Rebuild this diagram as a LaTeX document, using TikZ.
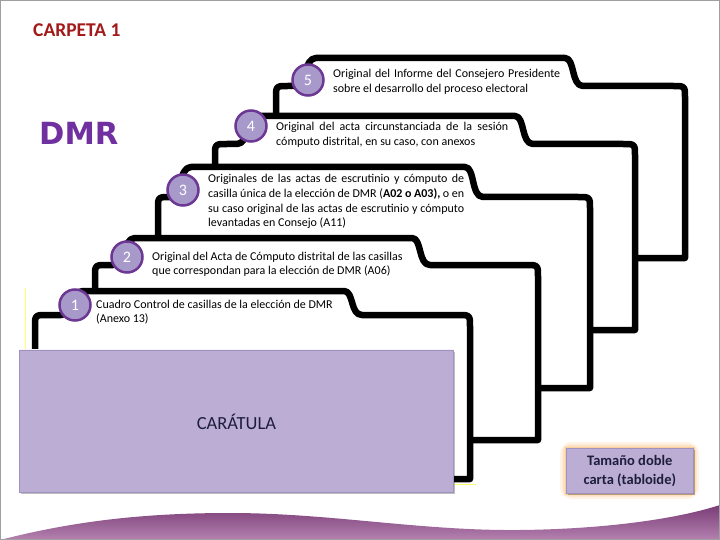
\documentclass[tikz,border=0pt]{standalone}
\usepackage{fontspec}
\setmainfont{Carlito}
\newfontfamily\dejavu{DejaVu Sans}
\definecolor{lav}{RGB}{188,173,212}
\definecolor{lavedge}{RGB}{160,146,190}
\definecolor{circfill}{RGB}{167,153,202}
\definecolor{circline}{RGB}{108,56,148}
\definecolor{dmrpurple}{RGB}{112,48,160}
\definecolor{titlered}{RGB}{163,25,25}
\definecolor{glow}{RGB}{250,195,130}
\definecolor{wavetop}{RGB}{122,60,118}
\definecolor{wavebot}{RGB}{180,130,176}
\definecolor{darktext}{RGB}{30,30,60}
\definecolor{selyellow}{RGB}{255,255,110}
\tikzset{
  folderline/.style={draw=black, fill=white, line width=6.5pt, line join=round},
  numcirc/.style={circle, fill=circfill, draw=circline, line width=2.5pt, minimum size=31pt, inner sep=0pt, text=white, font=\fontsize{16}{16}\selectfont},
  foldertext/.style={anchor=base west, inner sep=0pt, font=\fontsize{12}{14.5}\selectfont, text=black},
}
\newcommand{\drawfolder}[7]{%
  \draw[folderline] (#1,#7) -- (#1,#2+12) .. controls (#1,#2) .. (#1+12,#2) -- (#3-14,#2)
    .. controls (#3-2,#2) and (#3-4,#4) .. (#3+8,#4) -- (#5,#4)
    .. controls (#5+10,#4) and (#5+6,#2) .. (#5+18,#2) -- (#6-12,#2)
    .. controls (#6,#2) .. (#6,#2+12) -- (#6,#7) -- cycle;}
\begin{document}
\begin{tikzpicture}[x=1pt,y=-1pt]
\useasboundingbox (0,0) rectangle (720,540);
\fill[white] (0,0) rectangle (720,540);

% bottom wave
\shade[top color=wavetop, bottom color=wavebot] (0,540) .. controls (70,522) and (140,513) .. (230,513)
  .. controls (330,513) and (420,531) .. (520,530) .. controls (610,529) and (680,518) .. (720,505) -- (720,540) -- cycle;

\node[anchor=base west, inner sep=0pt, text=titlered, font=\bfseries\fontsize{19.5}{20}\selectfont] (title) at (33,37) {CARPETA 1};
\node[anchor=base west, inner sep=0pt, text=dmrpurple, font=\dejavu\bfseries\fontsize{30.5}{31}\selectfont] (dmr) at (39,145) {DMR};

% folder 5
\drawfolder{276}{86}{308}{58}{565}{685}{258}
\node[numcirc] (c5) at (308,80) {5};
\node[foldertext] (t5) at (333,78) {\parbox[t]{240pt}{\makebox[227pt][s]{Original del Informe del Consejero Presidente}\\sobre el desarrollo del proceso electoral}};

% folder 4
\drawfolder{215}{144}{251}{116}{515}{635}{330}
\node[numcirc] (c4) at (251,126) {4};
\node[foldertext] (t4) at (276,131) {\parbox[t]{240pt}{\makebox[232pt][s]{Original del acta circunstanciada de la sesión}\\cómputo distrital, en su caso, con anexos}};

% folder 3
\drawfolder{158}{197}{183}{167}{465}{590}{388}
\node[numcirc] (c3) at (183,190) {3};
\node[foldertext] (t3) at (208,183) {\parbox[t]{270pt}{\makebox[256pt][s]{Originales de las actas de escrutinio y cómputo de}\\\makebox[256pt][s]{casilla única de la elección de DMR (\textbf{A02 o A03),} o en}\\\makebox[256pt][s]{su caso original de las actas de escrutinio y cómputo}\\levantadas en Consejo (A11)}};

% folder 2
\drawfolder{95}{265}{127}{238}{412}{538}{440}
\node[numcirc] (c2) at (127,257) {2};
\node[foldertext] (t2) at (152,260) {\parbox[t]{270pt}{Original del Acta de Cómputo distrital de las casillas\\que correspondan para la elección de DMR (A06)}};

% selection marks
\draw[selyellow, line width=1pt] (25,288) -- (25,484) -- (476,484);

% folder 1
\drawfolder{35}{315}{75}{291}{344}{470}{479}
\node[numcirc] (c1) at (75,305) {1};
\node[foldertext] (t1) at (96,308) {\parbox[t]{270pt}{Cuadro Control de casillas de la elección de DMR\\(Anexo 13)}};

% caratula
\fill[black, opacity=0.25] (21,352) rectangle (455,494);
\node[draw=lavedge, line width=0.8pt, fill=lav, minimum width=434pt, minimum height=142pt, inner sep=0pt, anchor=north west, text=darktext, font=\fontsize{18.5}{19}\selectfont] (car) at (19,350) {CARÁTULA};
\draw[white!85!lav, line width=1pt] (car.north west) ++(0.8,-0.8) -- ([shift={(-0.8,-0.8)}]car.north east);

% size box
\draw[glow, line width=12pt, opacity=0.2, rounded corners=6pt] (566,448) rectangle (693,493);
\draw[glow, line width=7pt, opacity=0.35, rounded corners=4pt] (566,448) rectangle (693,493);
\draw[glow, line width=3pt, opacity=0.6] (566,448) rectangle (693,493);
\fill[black, opacity=0.25] (567.5,449.5) rectangle (694.5,494.5);
\node[draw=lavedge, line width=0.6pt, fill=lav, minimum width=127pt, minimum height=45pt, inner sep=0pt, anchor=north west, align=center, text=darktext, font=\bfseries\fontsize{14.5}{19}\selectfont] (size) at (566,448) {Tamaño doble\\carta (tabloide)};

% slide border
\draw[gray!75, line width=1.2pt] (0.6,0.6) rectangle (719.4,539.4);
\end{tikzpicture}
\end{document}
